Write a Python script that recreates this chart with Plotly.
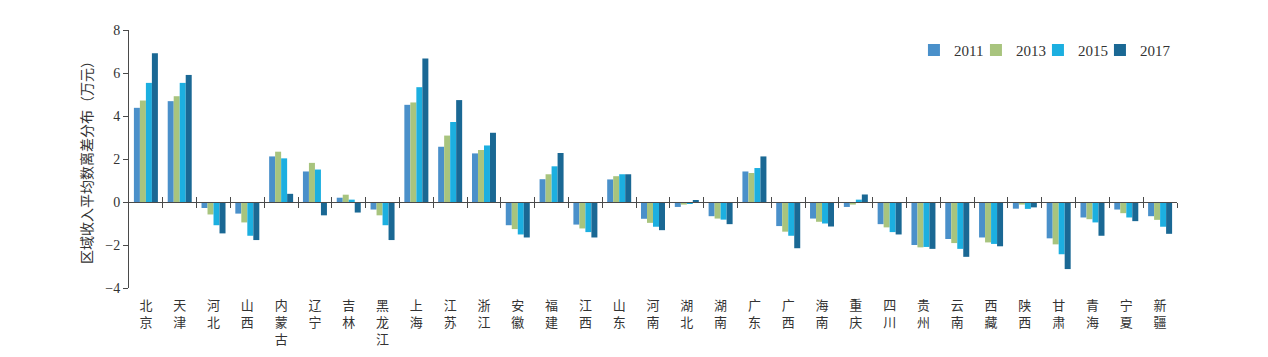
import plotly.graph_objects as go

provinces = ["北京", "天津", "河北", "山西", "内蒙古", "辽宁", "吉林", "黑龙江", "上海", "江苏",
             "浙江", "安徽", "福建", "江西", "山东", "河南", "湖北", "湖南", "广东", "广西",
             "海南", "重庆", "四川", "贵州", "云南", "西藏", "陕西", "甘肃", "青海", "宁夏", "新疆"]

years = ["2011", "2013", "2015", "2017"]

v2011 = [4.38, 4.69, -0.28, -0.54, 2.12, 1.42, 0.20, -0.35, 4.52, 2.57,
         2.26, -1.08, 1.06, -1.05, 1.05, -0.78, -0.23, -0.66, 1.42, -1.12,
         -0.77, -0.23, -1.03, -2.00, -1.72, -1.65, -0.31, -1.69, -0.72, -0.35, -0.66]
v2013 = [4.72, 4.92, -0.58, -0.95, 2.34, 1.82, 0.34, -0.62, 4.63, 3.09,
         2.42, -1.26, 1.29, -1.23, 1.20, -0.97, -0.12, -0.77, 1.35, -1.38,
         -0.92, -0.12, -1.18, -2.11, -1.91, -1.88, -0.12, -1.97, -0.80, -0.52, -0.83]
v2015 = [5.54, 5.54, -1.08, -1.57, 2.03, 1.51, 0.11, -1.08, 5.34, 3.72,
         2.63, -1.51, 1.66, -1.40, 1.29, -1.15, -0.05, -0.82, 1.58, -1.57,
         -1.00, 0.11, -1.40, -2.09, -2.18, -1.95, -0.32, -2.43, -0.95, -0.72, -1.15]
v2017 = [6.92, 5.91, -1.46, -1.77, 0.38, -0.62, -0.49, -1.77, 6.68, 4.74,
         3.22, -1.65, 2.28, -1.65, 1.29, -1.31, 0.08, -1.03, 2.12, -2.15,
         -1.14, 0.35, -1.51, -2.18, -2.55, -2.06, -0.25, -3.12, -1.57, -0.89, -1.48]

series = [v2011, v2013, v2015, v2017]
colors = ["#4A90CA", "#A8C47E", "#1CAFE0", "#1A6894"]

y_ticks = [-4, -2, 0, 2, 4, 6, 8]
y_title = "区域收入平均数离差分布（万元）"

# vertical stacked labels
labels = ["<br>".join(list(p)) for p in provinces]

fig = go.Figure()
for name, vals, col in zip(years, series, colors):
    fig.add_trace(go.Bar(x=list(range(len(provinces))), y=vals, name=name,
                         marker=dict(color=col, line=dict(width=0))))

# helper invisible traces so overlay axes render (the last one also pads the legend box)
n = len(provinces)
boundaries = [i + 0.5 for i in range(n)]
for i, ax in enumerate(["x2", "x3"]):
    fig.add_trace(go.Scatter(x=[0], y=[0], xaxis=ax, yaxis="y", mode="markers",
                             marker=dict(color="rgba(0,0,0,0)", size=1, opacity=0,
                                         line=dict(width=0, color="rgba(0,0,0,0)")),
                             name=" ", showlegend=(i == 1), hoverinfo="skip"))

axis_color = "#4a4a4a"
tick_font = dict(family="Liberation Serif, Times New Roman, serif", size=14, color="#333333")
cjk_font = dict(family="Noto Sans CJK SC, sans-serif", size=13, color="#333333")

xr = [-0.5, n - 0.5]
zero_pos = (0 - y_ticks[0]) / (y_ticks[-1] - y_ticks[0])

# page body has an 8px margin, so margins are shifted by 8px
fig.update_layout(
    width=1268, height=357,
    margin=dict(l=121, r=99, t=22, b=77, autoexpand=False),
    paper_bgcolor="white", plot_bgcolor="white",
    barmode="group", bargap=0.29, bargroupgap=0,
    showlegend=True,
    legend=dict(orientation="h", x=0.749, y=0.985, xanchor="left", yanchor="top",
                font=dict(family="Liberation Serif, Times New Roman, serif", size=15, color="#333333"),
                entrywidth=17, entrywidthmode="pixels", bgcolor="rgba(0,0,0,0)",
                itemclick=False, traceorder="normal"),
    xaxis=dict(range=xr, tickmode="array", tickvals=list(range(n)), ticktext=labels,
               showline=False, ticks="", showgrid=False, zeroline=False,
               tickfont=cjk_font, ticklabelstandoff=8, fixedrange=True),
    xaxis2=dict(overlaying="x", anchor="free", position=zero_pos, range=xr,
                tickmode="array", tickvals=boundaries, showticklabels=False,
                showline=True, linecolor=axis_color, linewidth=1,
                ticks="outside", ticklen=5, tickwidth=1, tickcolor=axis_color,
                showgrid=False, zeroline=False),
    xaxis3=dict(overlaying="x", anchor="free", position=zero_pos, range=xr,
                tickmode="array", tickvals=boundaries, showticklabels=False,
                showline=False, ticks="inside", ticklen=5, tickwidth=1, tickcolor=axis_color,
                showgrid=False, zeroline=False),
    yaxis=dict(range=[y_ticks[0], y_ticks[-1]], tickmode="array", tickvals=y_ticks,
               showline=True, linecolor=axis_color, linewidth=1,
               ticks="outside", ticklen=5, tickwidth=1, tickcolor=axis_color,
               showgrid=False, zeroline=False, tickfont=tick_font,
               title=dict(text=y_title, font=dict(family="Noto Sans CJK SC, sans-serif", size=14, color="#333333"),
                          standoff=9),
               automargin=True),
)

fig.write_html("out.html")
